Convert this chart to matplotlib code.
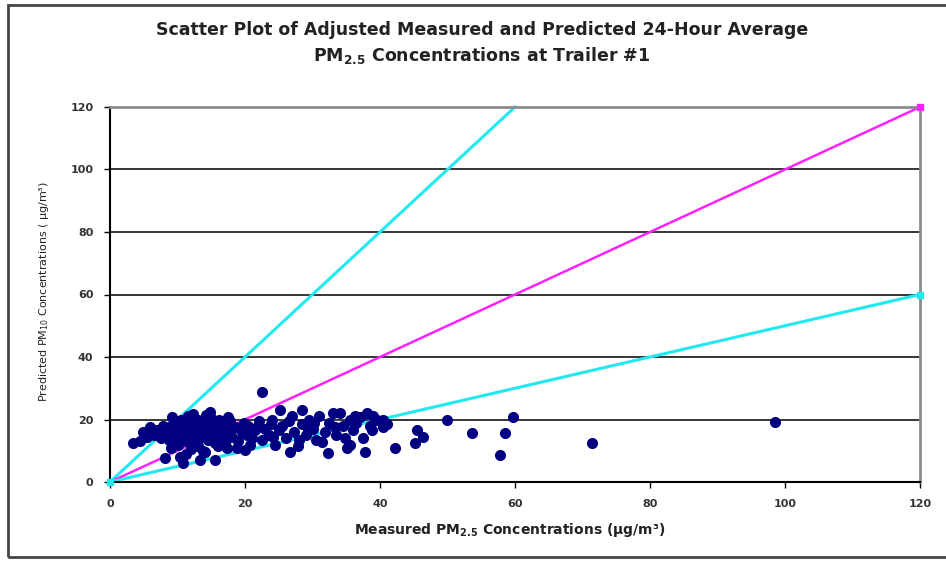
import matplotlib.pyplot as plt
from matplotlib.patches import Rectangle

# measured vs predicted 24-hour PM concentrations (ug/m3)
measured = [3.4, 4.5, 4.9, 5.5, 5.9, 6.5, 7, 7.5, 8, 8.1, 8.5, 9, 9.2, 9.5, 9.8, 10, 10.2,
            10.5, 10.8, 11, 11, 11.3, 11.5, 11.8, 12, 12.2, 12.5, 12.8, 13, 13.2, 13.3, 13.5,
            13.8, 14, 14.2, 14.5, 14.8, 15, 15.3, 15.6, 15.8, 16, 16.2, 16.5, 16.8, 17, 17.3,
            17.5, 17.8, 18, 18.5, 19, 19.5, 19.8, 20, 20.3, 20.5, 21, 21.5, 22, 22.5, 22.5,
            23, 23.5, 24, 24.5, 25, 25.2, 25.5, 26, 26.7, 27, 27.3, 27.8, 28.4, 28.5, 29, 29.5,
            30, 30.5, 31, 31.4, 31.8, 32.3, 32.5, 33, 33.5, 34, 34.5, 35.1, 35.5, 36, 36.5, 37,
            37.5, 37.8, 38, 38.5, 39, 40.5, 40.5, 42.2, 45.2, 45.5, 46.4, 49.9, 53.6, 57.8,
            58.5, 59.7, 71.4, 98.5,
            8.8, 9.3, 10, 10.6, 11.6, 12.4, 12.9, 13.6, 14.3, 15.1, 15.5, 16.4, 12, 11.2, 14,
            10.4, 9, 13, 15, 12.3, 7.8, 6.2, 17.5, 18.8, 20.8, 21.8, 23.8, 24.2, 26.5, 28,
            29.3, 30.2, 33.3, 34.8, 36.3, 38.8, 39.5, 41, 35.5]
predicted = [12.5, 13, 16, 14.5, 17.6, 15, 16.5, 14, 17, 7.7, 15.5, 18, 20.8, 16, 19, 14.5, 17.5,
             20, 6, 15, 18.5, 13, 21, 16, 19.5, 14, 17, 12, 20, 15.5, 7, 18,
             10, 16.5, 21.5, 13.5, 22.4, 19, 15, 7, 17, 11.5, 20, 14, 18, 12.5, 10.9,
             16, 19.5, 14.5, 17.5, 13, 16, 19, 10.2, 15, 18, 14, 16.5, 19.5, 28.8, 13.5,
             17, 15, 20, 12, 16.5, 23, 18, 14, 9.6, 21, 16, 11.5, 23, 18.5, 15, 20,
             17, 13.5, 21, 12.8, 16, 9.3, 19, 22, 15, 22, 18, 10.9, 20, 16.5, 19, 20.8,
             14, 9.6, 22, 18, 21, 19.8, 17.6, 10.9, 12.6, 16.6, 14.5, 19.8, 15.6, 8.6,
             15.6, 20.9, 12.4, 19.2,
             13.5, 15, 12, 16.5, 18, 15.5, 17.8, 14.5, 19, 17, 12.5, 16, 10.5, 9, 9.5,
             8, 11, 11.5, 20.5, 21.8, 18, 16.8, 20.8, 11, 12, 17.5, 18.5, 14.5, 19.5, 13.5,
             17, 19, 17.5, 14, 21, 16.5, 19.8, 18.5, 12]

# reference lines: 2:1, 1:1 and 1:2
line_2to1_x = [0, 60]
line_2to1_y = [0, 120]
line_1to1_x = [0, 120]
line_1to1_y = [0, 120]
line_1to2_x = [0, 120]
line_1to2_y = [0, 60]

x_ticks = [0, 20, 40, 60, 80, 100, 120]
y_ticks = [0, 20, 40, 60, 80, 100, 120]

W, H = 946, 561
fig = plt.figure(figsize=(W / 100, H / 100), dpi=100)
fig.patch.set_facecolor("white")

# outer border of the chart area
fig.patches.append(Rectangle((8 / W, 4 / H), 960 / W, 552 / H, transform=fig.transFigure,
                             fill=False, edgecolor="#444444", linewidth=2))

ax = fig.add_axes([110 / W, (H - 482) / H, 810 / W, 375 / H])

ax.set_xlim(0, 120)
ax.set_ylim(0, 120)
ax.set_xticks(x_ticks)
ax.set_yticks(y_ticks)

for yv in y_ticks[1:-1]:
    ax.axhline(yv, color="black", linewidth=1.1, zorder=1)

ax.plot(line_2to1_x, line_2to1_y, color="#22e8f0", linewidth=2.2, zorder=2, clip_on=False)
ax.plot(line_1to1_x, line_1to1_y, color="#ff22ff", linewidth=1.8, zorder=2, clip_on=False)
ax.plot(line_1to2_x, line_1to2_y, color="#22e8f0", linewidth=2.2, zorder=2, clip_on=False)
ax.plot([line_1to1_x[-1]], [line_1to1_y[-1]], "s", color="#ff22ff", markersize=4, clip_on=False, zorder=3)
ax.plot([line_1to2_x[0], line_1to2_x[-1]], [line_1to2_y[0], line_1to2_y[-1]], "s",
        color="#22e8f0", markersize=5, clip_on=False, zorder=3)

ax.plot(measured, predicted, "o", color="#000080", markersize=8, markeredgewidth=0,
        zorder=4, clip_on=False)

for s in ["top", "right"]:
    ax.spines[s].set_color("#8c8c8c")
    ax.spines[s].set_linewidth(2)
for s in ["left", "bottom"]:
    ax.spines[s].set_color("black")
    ax.spines[s].set_linewidth(1.5)

ax.tick_params(axis="both", direction="out", length=4, width=1, colors="black",
               labelsize=8, labelcolor="#333333")
ax.tick_params(axis="x", pad=8)
ax.tick_params(axis="y", pad=8)
for lab in ax.get_xticklabels() + ax.get_yticklabels():
    lab.set_fontweight("bold")

fig.text(482 / W, 1 - 30 / H, "Scatter Plot of Adjusted Measured and Predicted 24-Hour Average",
         ha="center", va="center", fontsize=12.5, fontweight="bold", color="#222222")
fig.text(482 / W, 1 - 55 / H, "PM$_{\\mathbf{2.5}}$ Concentrations at Trailer #1",
         ha="center", va="center", fontsize=12.5, fontweight="bold", color="#222222")

fig.text(510 / W, 1 - 530 / H, "Measured PM$_{\\mathbf{2.5}}$ Concentrations (µg/m³)",
         ha="center", va="center", fontsize=10, fontweight="bold", color="#222222")
fig.text(44 / W, 1 - 292 / H, "Predicted PM$_{10}$ Concentrations ( µg/m³)",
         ha="center", va="center", rotation=90, fontsize=8, color="#222222")

fig.savefig("out.png", dpi=100)
